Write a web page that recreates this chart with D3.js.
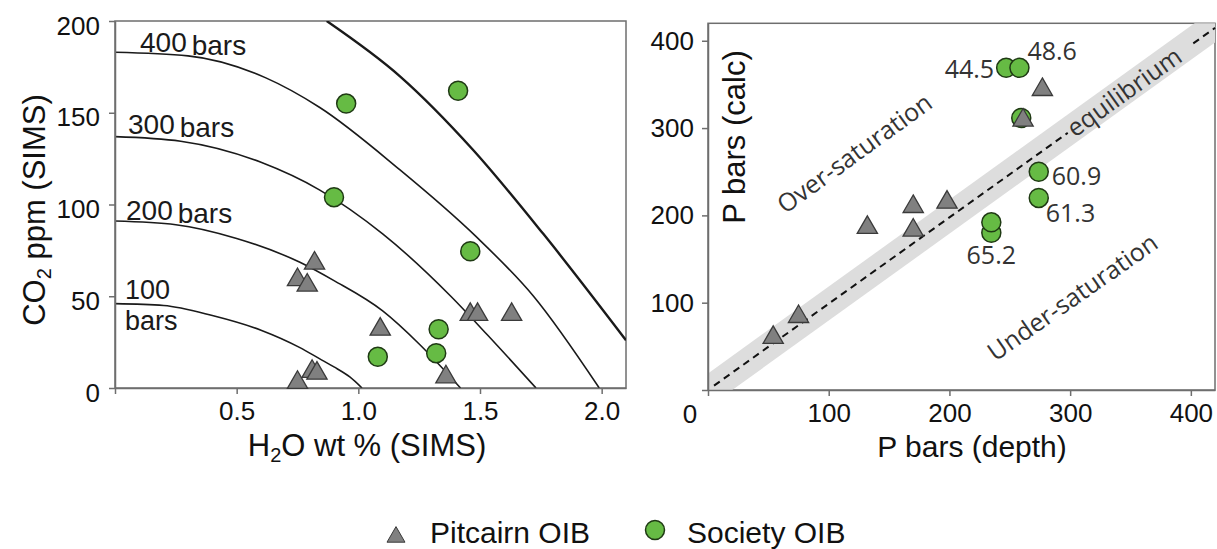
<!DOCTYPE html>
<html>
<head>
  <style type="text/css">
    body { margin: 0; background: #fff; }
    svg { display: block; }
  </style>
</head>
<body>
  <svg width="1217" height="549" id="chart"></svg>

  <script src="https://d3js.org/d3.v7.min.js"></script>
  <script>

// left panel: isobars (H2O wt %, CO2 ppm)
const iso100 = [[0, 46], [0.2, 45], [0.4, 39.5], [0.6, 31.5], [0.76, 22], [0.84, 16], [0.9, 11.5], [0.965, 6], [1.015, 0]]
const iso200 = [[0, 91], [0.25, 89], [0.5, 81.5], [0.76, 68.5], [0.9, 58.5], [1.1, 42], [1.25, 24], [1.42, 0]]
const iso300 = [[0, 137], [0.27, 134.5], [0.6, 123], [0.84, 108], [1.1, 84], [1.38, 50], [1.53, 29], [1.73, 0]]
const iso400 = [[0, 183], [0.3, 181], [0.62, 169], [0.84, 153], [1.17, 119], [1.48, 83], [1.72, 50], [1.99, 0]]
const iso500 = [[0.87, 200], [1.17, 170], [1.47, 130], [1.76, 84], [2.1, 26]]
const isoLabels = ['100', '200', '300', '400']

const pitcairnLeft = [[0.75, 3], [0.81, 9], [0.83, 8], [0.75, 59], [0.79, 56], [0.82, 68],
                      [1.09, 32], [1.36, 6], [1.46, 40], [1.49, 40], [1.63, 40]]
const societyLeft = [[0.95, 155], [1.41, 162], [0.9, 104], [1.46, 74.5], [1.33, 32], [1.32, 19], [1.08, 17]]

// right panel: P bars (depth) vs P bars (calc)
const pitcairnRight = [[54, 60], [75, 84], [132, 186], [170, 210], [170, 183], [198, 215], [261, 309], [277, 344]]
const societyRight = [[247, 369], [258, 369], [259.5, 311.5], [274, 250], [274, 220], [234.7, 180], [234.7, 192]]
const societyRightLabels = ['44.5', '48.6', '', '60.9', '61.3', '65.2', '']

const equilBand = [[0, -20, 19], [420, 398, 437]]
const equilSegments = [[[5, 5], [298, 294.5]], [[402, 397], [420, 414.7]]]

const leftXTicks = [0, 0.5, 1.0, 1.5, 2.0]
const leftYTicks = [0, 50, 100, 150, 200]
const rightTicks = [0, 100, 200, 300, 400]

const legendItems = ['Pitcairn OIB', 'Society OIB']

function translate(x, y) { return 'translate(' + x + ',' + y + ')'; }

const ARIAL = '"Liberation Sans", Arial, Helvetica, sans-serif'
const MYRIAD = '"Open Sans", "Noto Sans", sans-serif'
const GREEN = '#66bb44', GREEN_STROKE = '#1f3a14'
const GREY = '#808080', GREY_STROKE = '#3a3a3a'
const FRAME = '#6e6e6e'

let svg = d3.select('#chart')

let lx = d3.scaleLinear().domain([0, 2.1]).range([115, 626])
let ly = d3.scaleLinear().domain([0, 200]).range([388, 21])
let rx = d3.scaleLinear().domain([0, 420]).range([708, 1215])
let ry = d3.scaleLinear().domain([0, 420]).range([390, 23.3])

let defs = svg.append('defs')
defs.append('clipPath').attr('id', 'clipL').append('rect')
  .attr('x', lx(0)).attr('y', ly(200)).attr('width', lx(2.1) - lx(0)).attr('height', ly(0) - ly(200))
defs.append('clipPath').attr('id', 'clipR').append('rect')
  .attr('x', rx(0)).attr('y', ry(420)).attr('width', rx(420) - rx(0)).attr('height', ry(0) - ry(420))

let tri = d3.symbol().type(d3.symbolTriangle).size(178)

function styleAxis(g) {
  g.attr('font-size', 26).attr('font-family', ARIAL)
  g.selectAll('.domain').attr('stroke', FRAME).attr('stroke-width', 1.5)
  g.selectAll('.tick line').attr('stroke', FRAME).attr('stroke-width', 1.5)
  g.selectAll('.tick text').attr('fill', '#111')
}

// ---------- left panel ----------
let left = svg.append('g')

left.append('rect')
  .attr('x', lx(0)).attr('y', ly(200))
  .attr('width', lx(2.1) - lx(0)).attr('height', ly(0) - ly(200))
  .attr('fill', 'none').attr('stroke', FRAME).attr('stroke-width', 1.5)

let line = d3.line().x(d => lx(d[0])).y(d => ly(d[1])).curve(d3.curveMonotoneX)
let curves = left.append('g').attr('clip-path', 'url(#clipL)')
;[iso100, iso200, iso300, iso400].forEach(c => {
  curves.append('path').datum(c).attr('d', line)
    .attr('fill', 'none').attr('stroke', '#1a1a1a').attr('stroke-width', 1.6)
})
curves.append('path').datum(iso500).attr('d', line)
  .attr('fill', 'none').attr('stroke', '#1a1a1a').attr('stroke-width', 2.4)

let isoText = left.append('g').attr('font-family', ARIAL).attr('font-size', 28).attr('fill', '#1a1a1a')
// 400, 300, 200 labels sit above their curves
;[[isoLabels[3], 140, 52], [isoLabels[2], 128, 134], [isoLabels[1], 126, 220]].forEach(([t, x, y]) => {
  let tx = isoText.append('text').attr('x', x).attr('y', y).text(t)
  tx.append('tspan').attr('dx', 5).attr('dy', 3).text('bars')
})
isoText.append('text').attr('x', 125).attr('y', 299).attr('font-size', 27).text(isoLabels[0])
isoText.append('text').attr('x', 125).attr('y', 330).attr('font-size', 27).text('bars')

left.append('g').attr('transform', translate(0, ly(0)))
  .call(d3.axisBottom(lx).tickValues(leftXTicks).tickSize(6).tickSizeOuter(0).tickPadding(8)
    .tickFormat(d => d === 0 ? '' : d3.format('.1f')(d)))
  .call(styleAxis)

let gly = left.append('g').attr('transform', translate(lx(0), 0))
  .call(d3.axisLeft(ly).tickValues(leftYTicks).tickSize(6).tickSizeOuter(0).tickPadding(9))
  .call(styleAxis)
gly.selectAll('.tick text').attr('dy', '0.5em')

left.selectAll('.soc').data(societyLeft).enter().append('circle')
  .attr('cx', d => lx(d[0])).attr('cy', d => ly(d[1])).attr('r', 9.5)
  .attr('fill', GREEN).attr('stroke', GREEN_STROKE).attr('stroke-width', 1.5)

left.selectAll('.pit').data(pitcairnLeft).enter().append('path')
  .attr('d', tri).attr('transform', d => translate(lx(d[0]), ly(d[1])))
  .attr('fill', GREY).attr('stroke', GREY_STROKE).attr('stroke-width', 1.3)

let xTitleL = left.append('text').attr('x', 367).attr('y', 456)
  .attr('text-anchor', 'middle').attr('font-family', ARIAL).attr('font-size', 31).attr('fill', '#111')
xTitleL.append('tspan').text('H')
xTitleL.append('tspan').attr('font-size', 20).attr('dy', 6).text('2')
xTitleL.append('tspan').attr('dy', -6).text('O wt % (SIMS)')

let yTitleL = left.append('text').attr('transform', translate(45, 210) + ' rotate(-90)')
  .attr('text-anchor', 'middle').attr('font-family', ARIAL).attr('font-size', 31).attr('fill', '#111')
yTitleL.append('tspan').text('CO')
yTitleL.append('tspan').attr('font-size', 20).attr('dy', 6).text('2')
yTitleL.append('tspan').attr('dy', -6).text(' ppm (SIMS)')

// ---------- right panel ----------
let right = svg.append('g')

right.append('rect')
  .attr('x', rx(0)).attr('y', ry(420))
  .attr('width', rx(420) - rx(0)).attr('height', ry(0) - ry(420))
  .attr('fill', 'none').attr('stroke', FRAME).attr('stroke-width', 1.5)

let band = d3.area().x(d => rx(d[0])).y0(d => ry(d[1])).y1(d => ry(d[2]))
right.append('path').datum(equilBand).attr('d', band)
  .attr('fill', '#dddddd').attr('clip-path', 'url(#clipR)')

let rline = d3.line().x(d => rx(d[0])).y(d => ry(d[1]))
equilSegments.forEach(s => {
  right.append('path').datum(s).attr('d', rline)
    .attr('fill', 'none').attr('stroke', '#111').attr('stroke-width', 2)
    .attr('stroke-dasharray', '7,5')
})

let slopeAngle = -Math.atan2(ry(equilSegments[0][0][1]) - ry(equilSegments[0][1][1]),
                             rx(equilSegments[0][1][0]) - rx(equilSegments[0][0][0])) * 180 / Math.PI

let notes = right.append('g').attr('font-family', MYRIAD).attr('font-size', 25).attr('fill', '#333')
notes.append('text').attr('transform', translate(rx(300), ry(296)) + ' rotate(' + slopeAngle + ')')
  .attr('dy', '0.32em').text('equilibrium')
notes.append('text').attr('transform', translate(rx(64), ry(201)) + ' rotate(-36)').text('Over-saturation')
notes.append('text').attr('transform', translate(rx(238), ry(32)) + ' rotate(-35)').text('Under-saturation')

right.append('g').attr('transform', translate(rx(0), 0))
  .call(d3.axisLeft(ry).tickValues(rightTicks).tickSize(6).tickSizeOuter(0).tickPadding(8)
    .tickFormat(d => d === 0 ? '' : d))
  .call(styleAxis)

right.append('g').attr('transform', translate(0, ry(0)))
  .call(d3.axisBottom(rx).tickValues(rightTicks).tickSize(6).tickSizeOuter(0).tickPadding(8)
    .tickFormat(d => d === 0 ? '' : d))
  .call(styleAxis)

right.append('text').attr('x', rx(0) - 18).attr('y', 423).attr('text-anchor', 'middle')
  .attr('font-family', ARIAL).attr('font-size', 26).attr('fill', '#111').text(rightTicks[0])

right.selectAll('.soc').data(societyRight).enter().append('circle')
  .attr('cx', d => rx(d[0])).attr('cy', d => ry(d[1])).attr('r', 9.5)
  .attr('fill', GREEN).attr('stroke', GREEN_STROKE).attr('stroke-width', 1.5)

right.selectAll('.pit').data(pitcairnRight).enter().append('path')
  .attr('d', tri).attr('transform', d => translate(rx(d[0]), ry(d[1])))
  .attr('fill', GREY).attr('stroke', GREY_STROKE).attr('stroke-width', 1.3)

// label offsets from each circle
let labelOffsets = [[-12, 10, 'end'], [8, -8, 'start'], [0, 0, 'start'], [13, 13, 'start'],
                    [7, 24, 'start'], [0, 31, 'middle'], [0, 0, 'start']]
right.append('g').attr('font-family', MYRIAD).attr('font-size', 25).attr('fill', '#333')
  .selectAll('text').data(societyRight).enter().append('text')
  .attr('x', (d, i) => rx(d[0]) + labelOffsets[i][0])
  .attr('y', (d, i) => ry(d[1]) + labelOffsets[i][1])
  .attr('text-anchor', (d, i) => labelOffsets[i][2])
  .text((d, i) => societyRightLabels[i])

right.append('text').attr('transform', translate(745, 137) + ' rotate(-90)')
  .attr('text-anchor', 'middle').attr('font-family', ARIAL).attr('font-size', 31).attr('fill', '#111')
  .text('P bars (calc)')
right.append('text').attr('x', 972).attr('y', 457)
  .attr('text-anchor', 'middle').attr('font-family', ARIAL).attr('font-size', 30).attr('fill', '#111')
  .text('P bars (depth)')

// ---------- legend ----------
let legend = svg.append('g').attr('font-family', ARIAL).attr('font-size', 30).attr('fill', '#111')
legend.append('path').attr('d', d3.symbol().type(d3.symbolTriangle).size(140)())
  .attr('transform', translate(396, 537)).attr('fill', GREY).attr('stroke', GREY_STROKE).attr('stroke-width', 1)
legend.append('text').attr('x', 430).attr('y', 543).text(legendItems[0])
legend.append('circle').attr('cx', 655).attr('cy', 530).attr('r', 9.5)
  .attr('fill', GREEN).attr('stroke', GREEN_STROKE).attr('stroke-width', 1.5)
legend.append('text').attr('x', 687).attr('y', 543).text(legendItems[1])

  </script>
</body>
</html>
